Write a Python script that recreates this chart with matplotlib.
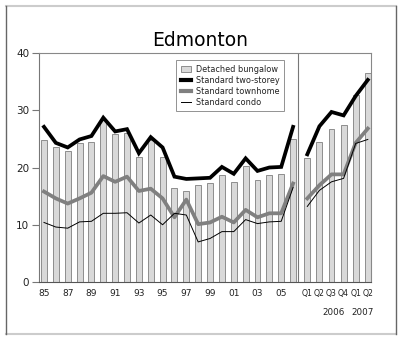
import matplotlib
matplotlib.use("Agg")
import matplotlib.pyplot as plt
from matplotlib.lines import Line2D
from matplotlib.patches import Patch
import numpy as np

plt.rcParams['font.family'] = ['DejaVu Sans']

year_labels = ["85", "", "87", "", "89", "", "91", "", "93", "", "95", "", "97", "", "99", "",
               "01", "", "03", "", "05", ""]
quarter_labels = ["Q1", "Q2", "Q3", "Q4", "Q1", "Q2"]
quarter_years = ["2006", "2007"]

bungalow_annual = [24.8, 23.5, 22.8, 24.2, 24.4, 28.3, 25.9, 26.0, 21.8, 24.8, 21.8,
                   16.4, 15.9, 16.9, 17.3, 18.7, 17.5, 20.3, 17.8, 18.7, 18.9, 25.0]
bungalow_quarter = [21.6, 24.4, 26.7, 27.5, 32.7, 36.5]

twostorey_annual = [27.1, 24.3, 23.5, 24.9, 25.5, 28.7, 26.3, 26.7, 22.5, 25.3, 23.5,
                    18.4, 18.0, 18.1, 18.2, 20.1, 18.9, 21.6, 19.4, 20.0, 20.1, 27.1]
twostorey_quarter = [22.3, 27.2, 29.7, 29.1, 32.5, 35.3]

townhome_annual = [15.8, 14.6, 13.7, 14.6, 15.6, 18.5, 17.5, 18.4, 15.9, 16.3, 14.6,
                   11.3, 14.4, 10.1, 10.4, 11.4, 10.4, 12.6, 11.3, 12.0, 12.0, 17.2]
townhome_quarter = [14.6, 16.9, 18.8, 18.8, 24.3, 26.8]

condo_annual = [10.4, 9.6, 9.4, 10.5, 10.6, 12.0, 12.0, 12.1, 10.3, 11.7, 10.0,
                12.0, 11.7, 7.0, 7.6, 8.8, 8.8, 10.9, 10.2, 10.5, 10.6, 16.5]
condo_quarter = [13.2, 16.0, 17.5, 18.1, 24.2, 24.9]

W, H = 400, 340
fig = plt.figure(figsize=(W / 100, H / 100), dpi=100)

# outer frame
fig.add_artist(Line2D([6 / W, 396 / W], [1 - 6 / H, 1 - 6 / H], color="#cccccc", lw=1.5, transform=fig.transFigure))
fig.add_artist(Line2D([6 / W, 396 / W], [1 - 334 / H, 1 - 334 / H], color="#cccccc", lw=1.5, transform=fig.transFigure))
fig.add_artist(Line2D([6 / W, 6 / W], [1 - 6 / H, 1 - 334 / H], color="#666666", lw=1.0, transform=fig.transFigure))
fig.add_artist(Line2D([396 / W, 396 / W], [1 - 6 / H, 1 - 334 / H], color="#666666", lw=1.0, transform=fig.transFigure))

ax = fig.add_axes([39 / W, 1 - 282 / H, (371 - 39) / W, (282 - 53) / H])

xa = np.arange(len(bungalow_annual))
xq = 22.2 + np.arange(len(bungalow_quarter)) * 1.02

bar_kw = dict(width=0.5, color="#d9d9d9", edgecolor="#7f7f7f", linewidth=0.6, zorder=2)
ax.bar(xa, bungalow_annual, **bar_kw)
ax.bar(xq, bungalow_quarter, **bar_kw)

for xs, ys in [(xa, twostorey_annual), (xq, twostorey_quarter)]:
    ax.plot(xs, ys, color="black", lw=2.7, zorder=4, solid_joinstyle="miter")
for xs, ys in [(xa, townhome_annual), (xq, townhome_quarter)]:
    ax.plot(xs, ys, color="#808080", lw=2.7, zorder=3)
for xs, ys in [(xa, condo_annual), (xq, condo_quarter)]:
    ax.plot(xs, ys, color="black", lw=0.7, zorder=3)

ax.axvline(21.42, color="#777777", lw=0.8, zorder=1)

ax.set_xlim(-0.42, 27.57)
ax.set_ylim(0, 40)
ax.set_yticks([0, 10, 20, 30, 40])
ax.tick_params(axis="y", length=5, width=0.8, color="#777777", labelsize=7.5, pad=2, labelcolor="#222222")
ax.set_xticks(list(xa) + list(xq))
ax.set_xticklabels(year_labels + quarter_labels)
ax.tick_params(axis="x", length=0, labelsize=6.5, pad=5, labelcolor="#222222")
for lbl in ax.get_xticklabels()[len(xa):]:
    lbl.set_fontsize(5.6)
for s in ["top", "right"]:
    ax.spines[s].set_color("#888888")
    ax.spines[s].set_linewidth(0.8)
ax.spines["left"].set_color("#777777")
ax.spines["left"].set_linewidth(0.8)
ax.spines["bottom"].set_color("#555555")
ax.spines["bottom"].set_linewidth(0.8)

ax.text(24.45, -0.112, quarter_years[0], transform=ax.get_xaxis_transform(), ha="center", va="top",
        fontsize=6.3, color="#222222")
ax.text(26.85, -0.112, quarter_years[1], transform=ax.get_xaxis_transform(), ha="center", va="top",
        fontsize=6.3, color="#222222")

fig.text(200 / W, 1 - 40 / H, "Edmonton", ha="center", va="center", fontsize=13.5, color="black")

handles = [
    Patch(facecolor="#d9d9d9", edgecolor="#7f7f7f", linewidth=0.6),
    Line2D([], [], color="black", lw=3),
    Line2D([], [], color="#808080", lw=3),
    Line2D([], [], color="black", lw=0.7),
]
labels = ["Detached bungalow", "Standard two-storey", "Standard townhome", "Standard condo"]
leg = ax.legend(handles, labels, loc="upper left", bbox_to_anchor=((176 - 39) / 332, (282 - 60) / 229),
                fontsize=5.9, frameon=True, fancybox=False, borderaxespad=0, handlelength=1.3,
                handletextpad=0.6, labelspacing=0.25, borderpad=0.55)
leg.get_frame().set_edgecolor("#777777")
leg.get_frame().set_linewidth(0.7)
for t in leg.get_texts():
    t.set_color("#222222")

fig.savefig("out.png", dpi=100)
